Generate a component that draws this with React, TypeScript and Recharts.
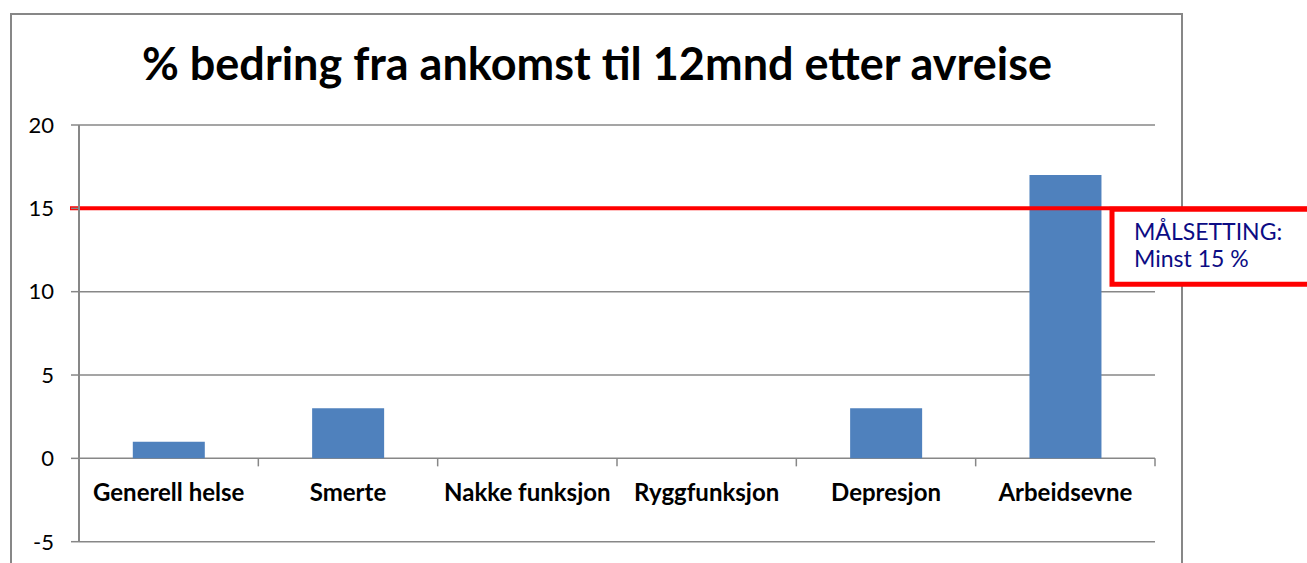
import { Bar, BarChart, CartesianGrid, ReferenceLine, XAxis, YAxis } from "recharts";

const title = "% bedring fra ankomst til 12mnd etter avreise";
const categories = [
  "Generell helse",
  "Smerte",
  "Nakke funksjon",
  "Ryggfunksjon",
  "Depresjon",
  "Arbeidsevne",
];
const improvement = [1, 3, 0, 0, 3, 17];
const yTicks = [-5, 0, 5, 10, 15, 20];
const targetValue = 15;
const targetText = ["MÅLSETTING:", "Minst 15 %"];

const W = 1307;
const H = 563;
// plot area in page pixels
const PLOT = { left: 79, right: 1155, top: 125, bottom: 541.7 };
const X_AXIS_H = 20;
const Y_MIN = -5;
const Y_MAX = 20;
const ZERO_Y = PLOT.top + ((PLOT.bottom - PLOT.top) * Y_MAX) / (Y_MAX - Y_MIN);
const BAND = (PLOT.right - PLOT.left) / categories.length;

const GRAY = "#878787";
const FONT = "Lato, 'Open Sans', sans-serif";

const data = categories.map((name, i) => ({ name, value: improvement[i] }));

function CategoryTick(props: any) {
  const { x, payload } = props;
  return (
    <g>
      <line x1={x + BAND / 2} x2={x + BAND / 2} y1={ZERO_Y} y2={ZERO_Y + 8} stroke={GRAY} strokeWidth={1.5} />
      <text
        x={x}
        y={ZERO_Y + 43}
        textAnchor="middle"
        fontFamily={FONT}
        fontWeight={700}
        fontSize={24}
        fill="#000"
      >
        {payload.value}
      </text>
    </g>
  );
}

function TargetLine(props: any) {
  const { x1, y1, x2 } = props;
  const boxLeft = x2 - 43;
  const boxTop = y1 + 1;
  const boxBottom = y1 + 76;
  return (
    <g>
      <line x1={x1 - 9} x2={W} y1={y1} y2={y1} stroke="#ff0000" strokeWidth={4} />
      <path
        d={`M ${W + 10} ${boxTop} H ${boxLeft} V ${boxBottom} H ${W + 10}`}
        fill="#fff"
        stroke="#ff0000"
        strokeWidth={5}
      />
      {targetText.map((t, i) => (
        <text
          key={t}
          x={boxLeft + 22}
          y={y1 + 32 + i * 27}
          fontFamily={FONT}
          fontSize={23}
          fill="#0c0c84"
        >
          {t}
        </text>
      ))}
    </g>
  );
}

export default function App() {
  return (
    <div style={{ position: "absolute", left: 0, top: 0, width: W, height: H, overflow: "hidden", background: "#fff" }}>
      <div
        style={{
          position: "absolute",
          left: 10,
          top: 13,
          width: 1173,
          height: 620,
          border: `2px solid ${GRAY}`,
          boxSizing: "border-box",
        }}
      />
      <div
        style={{
          position: "absolute",
          left: 10,
          width: 1174,
          top: 36,
          textAlign: "center",
          fontFamily: FONT,
          fontWeight: 700,
          fontSize: 45,
          lineHeight: "54px",
          color: "#000",
          whiteSpace: "nowrap",
        }}
      >
        {title}
      </div>
      <div style={{ position: "absolute", left: 0, top: 0 }}>
        <BarChart
          width={W}
          height={H}
          data={data}
          margin={{ top: PLOT.top, right: W - PLOT.right, bottom: H - PLOT.bottom - X_AXIS_H, left: 0 }}
          barCategoryGap="30%"
        >
          <CartesianGrid horizontal vertical={false} stroke={GRAY} strokeWidth={1.5} />
          <XAxis
            dataKey="name"
            axisLine={false}
            tickLine={false}
            height={X_AXIS_H}
            interval={0}
            tick={<CategoryTick />}
          />
          <YAxis
            width={PLOT.left}
            domain={[Y_MIN, Y_MAX]}
            ticks={yTicks}
            interval={0}
            axisLine={{ stroke: GRAY, strokeWidth: 2 }}
            tickLine={{ stroke: GRAY, strokeWidth: 1.5 }}
            tickSize={8}
            tickMargin={17}
            tick={{ fill: "#000", fontSize: 22, fontFamily: FONT }}
          />
          <Bar dataKey="value" fill="#4f81bd" isAnimationActive={false} />
          <ReferenceLine y={targetValue} shape={<TargetLine />} />
        </BarChart>
      </div>
    </div>
  );
}
